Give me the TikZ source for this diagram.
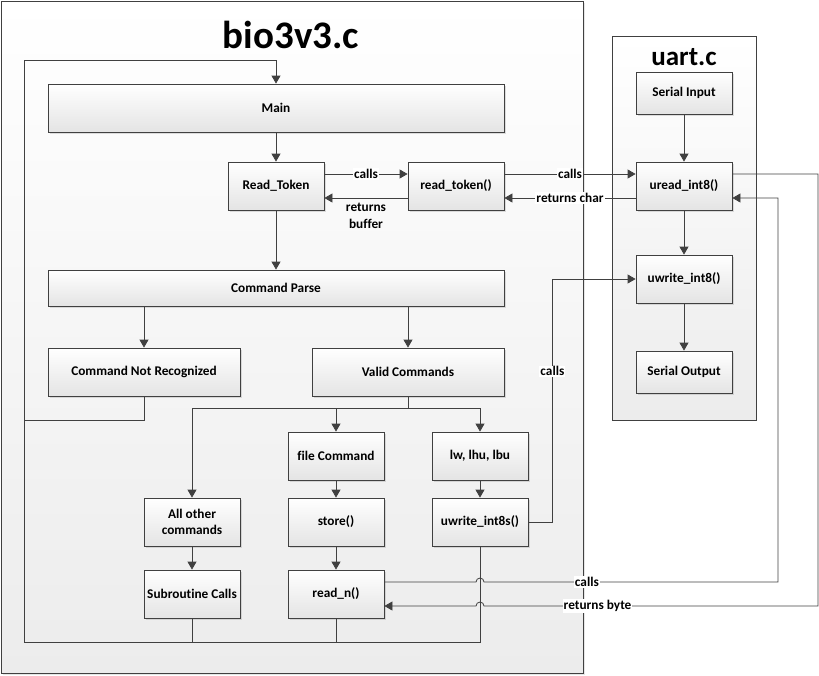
\documentclass[tikz,border=0pt]{standalone}
\usepackage{fontspec}
\setmainfont{Carlito}[Ligatures=NoCommon]
\usetikzlibrary{arrows.meta,shadows}
\definecolor{linegray}{HTML}{404040}
\definecolor{boxgray}{HTML}{E4E4E4}
\definecolor{panegray}{HTML}{ECECEC}
\begin{document}
\begin{tikzpicture}[x=1pt,y=-1pt,
  pane/.style={draw=linegray,line width=0.8pt,top color=white,bottom color=panegray,inner sep=0pt},
  fbox/.style={draw=linegray,line width=0.8pt,top color=white,bottom color=boxgray,
    minimum width=96,minimum height=48,inner sep=0pt,align=center,
    font=\bfseries\fontsize{13.3}{16}\selectfont,
    drop shadow={opacity=0.25,shadow xshift=1.5pt,shadow yshift=-1.5pt}},
  flow/.style={draw=linegray,line width=0.8pt,-{Triangle[length=8pt,width=9pt]}},
  wire/.style={draw=linegray,line width=0.8pt},
  lbl/.style={fill=white,inner sep=1pt,font=\bfseries\fontsize{13.3}{15}\selectfont}]
\useasboundingbox (0,0) rectangle (819,675);
% containers
\node[pane,minimum width=582,minimum height=672,
  drop shadow={opacity=0.2,shadow xshift=2pt,shadow yshift=-2pt}] (bio) at (292,337) {};
\node[pane,minimum width=144,minimum height=384] (uart) at (684,228) {};
\node[font=\bfseries\fontsize{39}{42}\selectfont] (biotitle) at (291,35) {bio3v3.c};
\node[font=\bfseries\fontsize{27}{30}\selectfont] (uarttitle) at (684,57) {uart.c};
% boxes
\node[fbox,minimum width=456] (main) at (276,108) {Main};
\node[fbox] (readtok) at (276,186) {Read\_Token};
\node[fbox] (readfn) at (456,186) {read\_token()};
\node[fbox,minimum width=456,minimum height=36] (parse) at (276,288) {Command Parse};
\node[fbox,minimum width=192] (notrec) at (144,372) {Command Not Recognized};
\node[fbox,minimum width=192] (valid) at (408,372) {Valid Commands};
\node[fbox] (filecmd) at (336,456) {file Command};
\node[fbox] (store) at (336,522) {store()};
\node[fbox] (readn) at (336,594) {read\_n()};
\node[fbox] (other) at (192,522) {All other\\commands};
\node[fbox] (subr) at (192,594) {Subroutine Calls};
\node[fbox] (lw) at (480,456) {lw, lhu, lbu};
\node[fbox] (uwrites) at (480,522) {uwrite\_int8s()};
\node[fbox,minimum height=42] (serin) at (684,93) {Serial Input};
\node[fbox] (uread) at (684,186) {uread\_int8()};
\node[fbox] (uwrite) at (684,279) {uwrite\_int8()};
\node[fbox,minimum height=42] (serout) at (684,372) {Serial Output};
% flow inside bio3v3.c
\draw[flow] (main) -- (readtok);
\draw[flow] (readtok) -- (parse);
\draw[flow] (notrec.north |- parse.south) -- (notrec);
\draw[flow] (valid.north |- parse.south) -- (valid);
\draw[flow] (notrec.south) |- (24,420) -- (24,60) -| (main.north);
\draw[wire] (valid.south) -- ++(0,12) coordinate (fan);
\draw[flow] (fan) -| (other.north);
\draw[flow] (fan) -| (filecmd.north);
\draw[flow] (fan) -| (lw.north);
\draw[flow] (other) -- (subr);
\draw[flow] (filecmd) -- (store);
\draw[flow] (store) -- (readn);
\draw[flow] (lw) -- (uwrites);
\draw[wire] (uwrites.south) |- (24,642) -- (24,420);
\draw[wire] (subr.south) -- ++(0,24);
\draw[wire] (readn.south) -- ++(0,24);
% calls and returns
\draw[flow] ([yshift=12pt]readtok.east) -- node[lbl]{calls} ([yshift=12pt]readfn.west);
\draw[flow] ([yshift=-12pt]readfn.west) -- node[below=5pt,align=center,inner sep=0pt,
  font=\bfseries\fontsize{13.3}{16.5}\selectfont]{returns\\buffer} ([yshift=-12pt]readtok.east);
\draw[flow] ([yshift=12pt]readfn.east) -- node[lbl]{calls} ([yshift=12pt]uread.west);
\draw[flow] ([yshift=-12pt]uread.west) -- node[lbl]{returns char} ([yshift=-12pt]readfn.east);
\draw[flow] (uwrites.east) -- ++(24,0) |- node[lbl,pos=0.31]{calls} (uwrite.west);
\draw[flow] (serin) -- (uread);
\draw[flow] (uread) -- (uwrite);
\draw[flow] (uwrite) -- (serout);
\coordinate (callsout) at ([yshift=12pt]readn.east);
\coordinate (bytein) at ([yshift=-12pt]readn.east);
\draw[flow] (callsout) -- ([xshift=-4pt]uwrites.south |- callsout)
  arc[start angle=180,end angle=0,radius=4pt]
  -- node[lbl,pos=0.35]{calls} (778,582) |- ([yshift=-12pt]uread.east);
\draw[flow] ([yshift=12pt]uread.east) -| (818,606)
  -- node[lbl,pos=0.66]{returns byte} ([xshift=4pt]uwrites.south |- bytein)
  arc[start angle=0,end angle=180,radius=4pt] -- (bytein);
\end{tikzpicture}
\end{document}
